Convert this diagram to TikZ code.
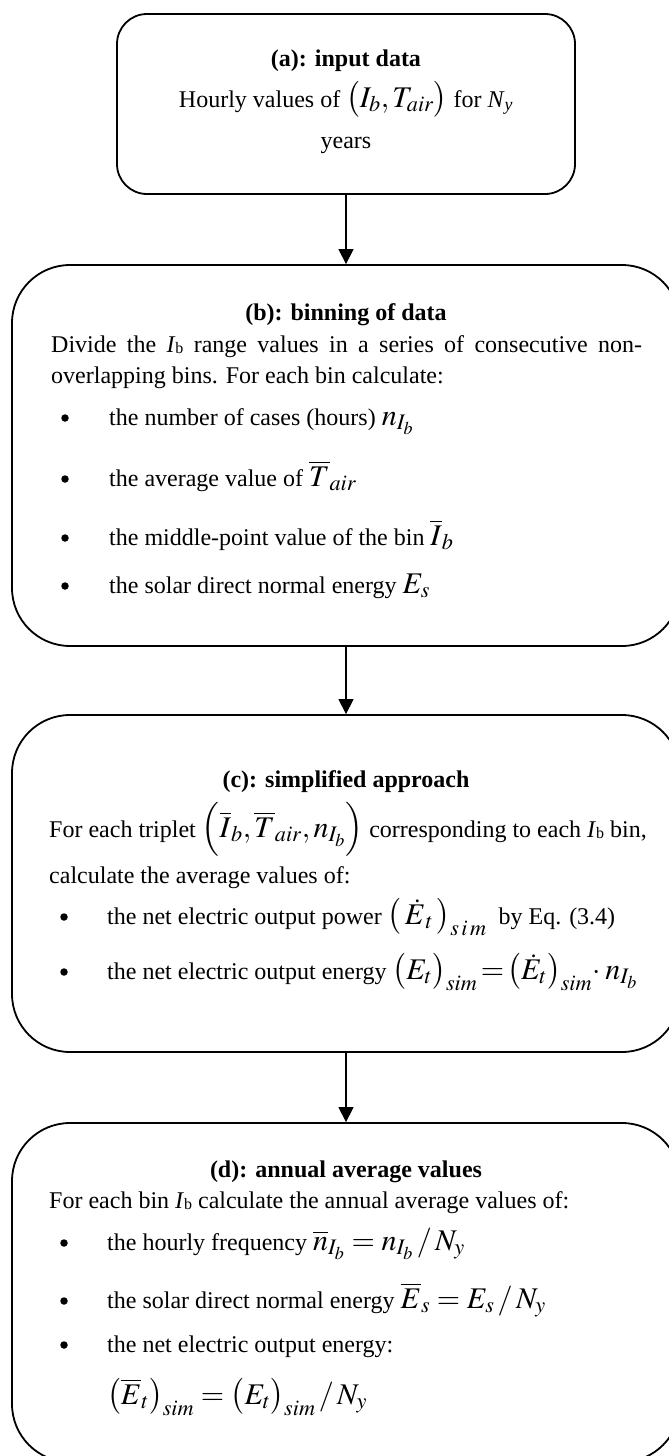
\documentclass[tikz,border=0pt]{standalone}
\usepackage{mathptmx}
\usepackage[no-math]{fontspec}
\setmainfont{Liberation Serif}
\usetikzlibrary{arrows.meta}
\newcommand\mth[1]{{\fontsize{30}{30}\selectfont$#1$}}
\newcommand\Ib{\textit{I}\raisebox{-1pt}{\fontsize{16}{16}\selectfont b}}
\tikzset{
  box/.style={draw, line width=1.8pt, inner sep=0pt, rectangle},
  txt/.style={anchor=base west, inner sep=0pt, font=\fontsize{24}{28}\selectfont},
  ctxt/.style={txt, anchor=base},
  ttl/.style={anchor=base, inner sep=0pt, font=\fontsize{24}{28}\selectfont\bfseries},
  bul/.style={circle, fill=black, inner sep=0pt, minimum size=7.5pt},
  arr/.style={-{Triangle[length=15pt,width=15pt]}, line width=1.2pt}
}
\begin{document}
\begin{tikzpicture}[x=1pt,y=-1pt]
\useasboundingbox (0,0) rectangle (669,1456);
% boxes
\node[box, rounded corners=30pt, minimum width=458pt, minimum height=180pt] (A) at (346,104) {};
\node[box, rounded corners=58pt, minimum width=668pt, minimum height=381pt] (B) at (346,455.5) {};
\node[box, rounded corners=58pt, minimum width=668pt, minimum height=337pt] (C) at (346,883.5) {};
\node[box, rounded corners=58pt, minimum width=668pt, minimum height=339pt] (D) at (346,1292.5) {};
\draw[arr] (A.south) -- (B.north);
\draw[arr] (B.south) -- (C.north);
\draw[arr] (C.south) -- (D.north);
% box a
\node[ttl] (ha) at (346,66) {(a): input data};
\node[ctxt] (la1) at (346,107) {Hourly values of \mth{\bigl(I_b, T_{air}\bigr)} for \textit{N}\textsubscript{\textit{y}}};
\node[ctxt] (la2) at (346,148) {years};
% box b
\node[ttl] (hb) at (346,320) {(b): binning of data};
\node[txt] (lb1) at (51,352) {\makebox[591pt][s]{Divide the \Ib\ range values in a series of consecutive non-}};
\node[txt] (lb2) at (51,383) {overlapping bins. For each bin calculate:};
\node[bul] (db1) at (65,418) {};
\node[txt] (lb3) at (109,425) {the number of cases (hours) \mth{n_{I_b}}};
\node[bul] (db2) at (65,479) {};
\node[txt] (lb4) at (109,486) {the average value of \mth{\overline{T}_{air}}};
\node[bul] (db3) at (65,538) {};
\node[txt] (lb5) at (109,545) {the middle-point value of the bin \mth{\overline{I}_b}};
\node[bul] (db4) at (65,586) {};
\node[txt] (lb6) at (109,593) {the solar direct normal energy \mth{E_s}};
% box c
\node[ttl] (hc) at (346,787) {(c): simplified approach};
\node[txt] (lc1) at (49,837) {For each triplet \mth{\Bigl(\overline{I}_b, \overline{T}_{air}, n_{I_b}\Bigr)} corresponding to each \Ib\ bin,};
\node[txt] (lc2) at (49,883) {calculate the average values of:};
\node[bul] (dc1) at (64,917) {};
\node[txt] (lc3) at (107,924) {the net electric output power \mth{\bigl(\,\dot{E}_{\,t}\,\bigr)_{s\,i\,m}}\ \ by Eq. (3.4)};
\node[bul] (dc2) at (64,972) {};
\node[txt] (lc4) at (107,979) {the net electric output energy \mth{\bigl(E_{t}\bigr)_{sim}\!=\!\bigl(\dot{E}_{t}\bigr)_{sim}\!\cdot n_{I_b}}};
% box d
\node[ttl] (hd) at (346,1177) {(d): annual average values};
\node[txt] (ld1) at (49,1208) {For each bin \Ib\ calculate the annual average values of:};
\node[bul] (dd1) at (64,1243) {};
\node[txt] (ld2) at (107,1250) {the hourly frequency \mth{\overline{n}_{I_b} = n_{I_b}\,/\,N_y}};
\node[bul] (dd2) at (64,1301) {};
\node[txt] (ld3) at (107,1308) {the solar direct normal energy \mth{\overline{E}_s = E_s\,/\,N_y}};
\node[bul] (dd3) at (64,1345) {};
\node[txt] (ld4) at (107,1352) {the net electric output energy:};
\node[txt] (ld5) at (107,1404) {\mth{\bigl(\overline{E}_t\bigr)_{sim} = \bigl(E_t\bigr)_{sim}\,/\,N_y}};
\end{tikzpicture}
\end{document}
